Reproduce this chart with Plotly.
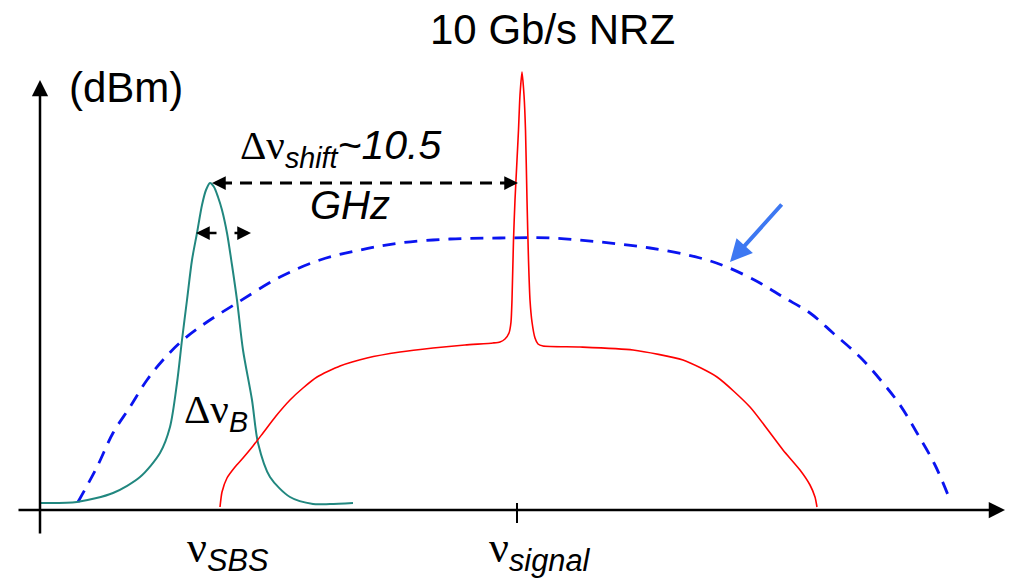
import plotly.graph_objects as go

# Frequency axis (arbitrary units) and power above floor (arbitrary dB units)
sbs_freq = [40, 77, 113, 140, 160, 170, 177, 182, 187, 192, 197, 202, 206, 210, 214, 218,
            222, 227, 232, 237, 243, 252, 258, 270, 290, 313, 330, 353]
sbs_power = [7, 8, 17, 33, 57, 83, 127, 170, 210, 250, 277, 305, 320, 327, 323, 313,
             300, 277, 245, 210, 160, 110, 67, 33, 13, 6, 6, 7]

sig_freq = [220, 222, 227, 235, 243, 253, 263, 276, 290, 303, 317, 340, 367, 400, 433, 465, 493, 500, 505, 509, 511,
            512, 513.5, 515, 517, 518.5, 520, 522, 524, 525.5, 527, 528.5, 530, 532, 535, 538, 543,
            580, 633, 683, 717, 750, 783, 800, 810, 815, 817]
sig_power = [3, 18, 32, 43, 52, 64, 77, 94, 110, 122, 133, 144, 152, 158, 162, 165, 167, 168, 171, 177, 188,
             210, 270, 310, 350, 380, 415, 438, 415, 380, 310, 250, 210, 188, 172, 166, 164,
             163, 160, 150, 133, 103, 60, 40, 25, 13, 3]

pump_freq = [78, 97, 113, 130, 147, 163, 183, 207, 237, 280, 320, 360, 400, 450, 500, 550, 600, 650, 700,
             727, 760, 783, 810, 833, 860, 883, 900, 917, 935, 950]
pump_power = [8, 43, 77, 103, 130, 150, 170, 188, 207, 233, 250, 260, 267, 271, 272, 272, 268, 262, 252,
              243, 227, 213, 197, 177, 153, 127, 105, 77, 45, 10]

shift_y = 327
shift_x0, shift_x1 = 212, 518
signal_center = 517

SANS = "Liberation Sans, Arial, sans-serif"
SERIF = "Liberation Serif, Times New Roman, serif"

fig = go.Figure()
fig.add_trace(go.Scatter(x=pump_freq, y=pump_power, mode="lines",
                         line=dict(color="#0a14f0", width=2.8, dash="13px,9px", shape="spline"), hoverinfo="skip"))
fig.add_trace(go.Scatter(x=sbs_freq, y=sbs_power, mode="lines",
                         line=dict(color="#21877f", width=2, shape="spline", smoothing=0.8), hoverinfo="skip"))
fig.add_trace(go.Scatter(x=sig_freq, y=sig_power, mode="lines",
                         line=dict(color="#ff0000", width=1.6, shape="spline", smoothing=0.6), hoverinfo="skip"))
fig.add_trace(go.Scatter(x=[shift_x0 + 8, shift_x1 - 8], y=[shift_y, shift_y], mode="lines",
                         line=dict(color="black", width=3, dash="12px,8px"), hoverinfo="skip"))

ann = []
def arrow(x, y, ax, ay, color="black", width=2.5, size=1.0, head=2):
    ann.append(dict(x=x, y=y, ax=ax, ay=ay, xref="x", yref="y", axref="x", ayref="y", text="",
                    showarrow=True, arrowhead=head, arrowsize=size, arrowwidth=width, arrowcolor=color))

# axes
arrow(40, 430, 40, -25, width=2.5, size=1.3)
arrow(1005, 0, 17, 0, width=2.5, size=1.3)
# shift arrow heads
arrow(shift_x0, shift_y, shift_x0 + 14, shift_y, width=2.5, size=1.1)
arrow(shift_x1, shift_y, shift_x1 - 14, shift_y, width=2.5, size=1.1)
# Brillouin bandwidth arrows
arrow(196, 277, 218, 277, width=2.5, size=1.1)
arrow(251, 277, 233, 277, width=2.5, size=1.1)
# blue arrow
arrow(730, 248, 783, 307, color="#3d78f2", width=4, size=1.1)

def label(x, y, text, size=40, xanchor="center", family=SANS):
    ann.append(dict(x=x, y=y, xref="x", yref="y", text=text, showarrow=False, xanchor=xanchor, yanchor="middle",
                    font=dict(family=family, size=size, color="black")))

label(552, 481, "10 Gb/s NRZ", size=42)
label(126, 423, "(dBm)", size=42)
label(238, 362, f"<span style='font-family:{SERIF}'>Δν</span><sub><i>shift</i></sub><i>~10.5</i>", size=41, xanchor="left")
label(350, 305, "<i>GHz</i>", size=40)
label(182, 98, f"<span style='font-family:{SERIF}'>Δν</span><sub><i>B</i></sub>", size=41, xanchor="left")
label(185, -40, f"<span style='font-family:{SERIF}'>ν</span><sub><i>SBS</i></sub>", size=44, xanchor="left")
label(487, -40, f"<span style='font-family:{SERIF}'>ν</span><sub><i>signal</i></sub>", size=44, xanchor="left")

# page body has an 8px margin: shift ranges so that the drawing lands where the reference has it
fig.update_layout(
    width=1017, height=581, margin=dict(l=0, r=0, t=0, b=0),
    paper_bgcolor="white", plot_bgcolor="white", showlegend=False,
    xaxis=dict(range=[8, 1025], visible=False, fixedrange=True),
    yaxis=dict(range=[-79, 502], visible=False, fixedrange=True),
    annotations=ann,
    shapes=[dict(type="line", xref="x", yref="y", x0=signal_center, x1=signal_center, y0=-13, y1=7,
                 line=dict(color="black", width=2))],
)
fig.write_html("out.html")
